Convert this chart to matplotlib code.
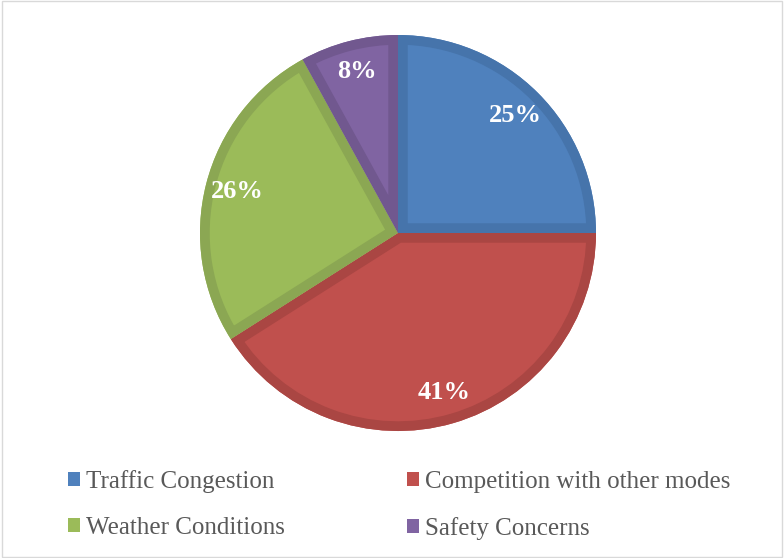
import matplotlib.pyplot as plt
from matplotlib.patches import Rectangle, Patch, PathPatch

labels = ['Traffic Congestion', 'Competition with other modes',
          'Weather Conditions', 'Safety Concerns']
shares = [25, 41, 26, 8]
colors = ['#4F81BD', '#C0504D', '#9BBB59', '#8064A2']
edges = ['#4674AB', '#AA4643', '#8BA753', '#71588F']

W, H = 784, 558
fig = plt.figure(figsize=(W / 100, H / 100), dpi=100)
fig.patches.append(Rectangle((0.002, 0.002), 0.996, 0.996, transform=fig.transFigure,
                             fill=False, edgecolor='#D9D9D9', linewidth=1))

cx, cy, r = 398, 233, 198
ax = fig.add_axes([(cx - r) / W, (H - cy - r) / H, 2 * r / W, 2 * r / H])
wedges, texts, autotexts = ax.pie(
    shares, colors=colors, startangle=90, counterclock=False,
    autopct='%d%%', pctdistance=0.84,
    textprops=dict(color='white', fontsize=19, fontweight='bold',
                   family='Liberation Serif'))
# darker inner border like the Excel style
for w, ec in zip(wedges, edges):
    path = w.get_path()
    border = PathPatch(path, transform=w.get_transform(), fill=False,
                       edgecolor=ec, linewidth=14, joinstyle='miter')
    ax.add_patch(border)
    border.set_clip_path(path, w.get_transform())
    border.set_zorder(w.get_zorder() + 0.1)
ax.set_xlim(-1, 1)
ax.set_ylim(-1, 1)
ax.set_aspect('equal')
ax.axis('off')

# matplotlib fills legend columns first, reorder so rows read as in the original
order = [0, 2, 1, 3]
handles = [Patch(facecolor=colors[i], edgecolor='none') for i in order]
fig.legend(handles, [labels[i] for i in order], loc='upper left',
           bbox_to_anchor=(68 / W, 1 - 470 / H),
           ncol=2, frameon=False, borderaxespad=0, borderpad=0,
           handlelength=0.48, handleheight=0.48,
           handletextpad=0.24, columnspacing=4.9, labelspacing=0.95,
           prop=dict(family='Liberation Serif', size=18), labelcolor='#595959')

fig.savefig('out.png', dpi=100)
